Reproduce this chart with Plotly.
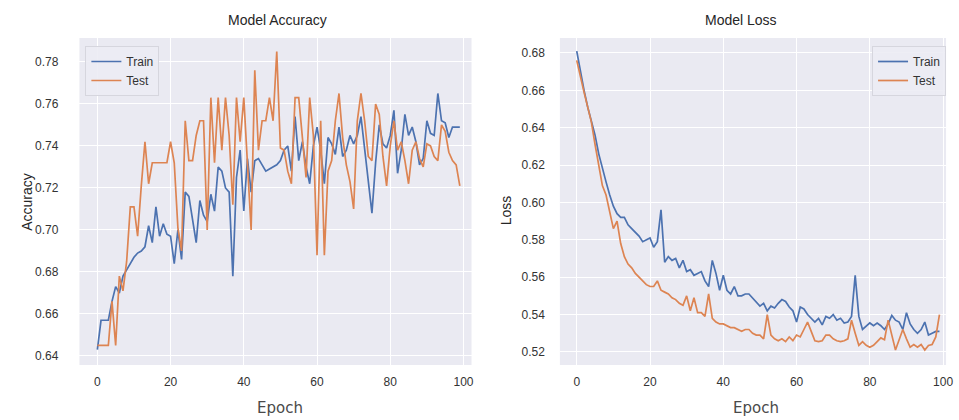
import plotly.graph_objects as go

epochs = list(range(100))

train_acc = [
    0.643, 0.657, 0.657, 0.657, 0.666, 0.673, 0.670, 0.678, 0.681, 0.684,
    0.687, 0.689, 0.690, 0.692, 0.702, 0.694, 0.711, 0.697, 0.703, 0.698,
    0.697, 0.684, 0.700, 0.686, 0.718, 0.716, 0.706, 0.694, 0.714, 0.707,
    0.704, 0.717, 0.709, 0.730, 0.728, 0.720, 0.718, 0.678, 0.725, 0.738,
    0.709, 0.734, 0.718, 0.733, 0.734, 0.731, 0.728, 0.729, 0.730, 0.731,
    0.733, 0.738, 0.740, 0.728, 0.754, 0.733, 0.742, 0.730, 0.722, 0.740,
    0.749, 0.738, 0.722, 0.744, 0.741, 0.736, 0.749, 0.735, 0.738, 0.745,
    0.741, 0.745, 0.754, 0.739, 0.722, 0.708, 0.732, 0.750, 0.741, 0.739,
    0.745, 0.757, 0.727, 0.738, 0.755, 0.745, 0.749, 0.742, 0.731, 0.734,
    0.752, 0.746, 0.745, 0.765, 0.752, 0.751, 0.744, 0.749, 0.749, 0.749,
]

test_acc = [
    0.645, 0.645, 0.645, 0.645, 0.666, 0.645, 0.678, 0.671, 0.685, 0.711,
    0.711, 0.697, 0.721, 0.742, 0.722, 0.732, 0.732, 0.732, 0.732, 0.732,
    0.742, 0.732, 0.701, 0.690, 0.752, 0.733, 0.733, 0.745, 0.752, 0.752,
    0.700, 0.763, 0.732, 0.763, 0.738, 0.763, 0.745, 0.712, 0.763, 0.742,
    0.763, 0.728, 0.700, 0.776, 0.738, 0.752, 0.752, 0.763, 0.752, 0.785,
    0.739, 0.738, 0.728, 0.722, 0.763, 0.763, 0.742, 0.725, 0.763, 0.745,
    0.688, 0.752, 0.688, 0.728, 0.733, 0.752, 0.765, 0.744, 0.731, 0.723,
    0.710, 0.752, 0.765, 0.752, 0.735, 0.733, 0.760, 0.755, 0.735, 0.721,
    0.740, 0.752, 0.738, 0.742, 0.733, 0.722, 0.738, 0.742, 0.734, 0.730,
    0.741, 0.740, 0.735, 0.733, 0.750, 0.747, 0.737, 0.733, 0.731, 0.721,
]

train_loss = [
    0.681, 0.670, 0.660, 0.651, 0.643, 0.636, 0.626, 0.618, 0.611, 0.604,
    0.598, 0.594, 0.592, 0.592, 0.588, 0.586, 0.584, 0.582, 0.579, 0.580,
    0.581, 0.576, 0.579, 0.596, 0.568, 0.571, 0.569, 0.570, 0.565, 0.569,
    0.563, 0.564, 0.561, 0.562, 0.563, 0.558, 0.555, 0.569, 0.562, 0.553,
    0.561, 0.553, 0.551, 0.555, 0.550, 0.550, 0.551, 0.551, 0.549, 0.547,
    0.5445, 0.546, 0.542, 0.5445, 0.5435, 0.546, 0.548, 0.547, 0.544, 0.542,
    0.536, 0.544, 0.543, 0.540, 0.538, 0.536, 0.538, 0.5345, 0.539, 0.538,
    0.540, 0.537, 0.538, 0.5355, 0.536, 0.539, 0.561, 0.539, 0.532, 0.5335,
    0.5355, 0.534, 0.5355, 0.534, 0.532, 0.535, 0.5395, 0.537, 0.536, 0.532,
    0.541, 0.535, 0.532, 0.530, 0.532, 0.536, 0.529, 0.530, 0.531, 0.531,
]

test_loss = [
    0.676, 0.667, 0.659, 0.651, 0.643, 0.631, 0.619, 0.609, 0.604, 0.595,
    0.586, 0.590, 0.578, 0.571, 0.567, 0.565, 0.562, 0.560, 0.558, 0.556,
    0.555, 0.555, 0.558, 0.553, 0.552, 0.551, 0.549, 0.548, 0.546, 0.545,
    0.550, 0.542, 0.549, 0.541, 0.541, 0.539, 0.551, 0.538, 0.536, 0.535,
    0.535, 0.534, 0.533, 0.533, 0.532, 0.531, 0.532, 0.532, 0.530, 0.529,
    0.529, 0.527, 0.540, 0.529, 0.527, 0.526, 0.527, 0.5255, 0.528, 0.526,
    0.529, 0.528, 0.532, 0.536, 0.531, 0.526, 0.5255, 0.526, 0.529, 0.529,
    0.527, 0.526, 0.5255, 0.526, 0.527, 0.537, 0.530, 0.5235, 0.5255, 0.5235,
    0.5225, 0.5235, 0.5255, 0.5275, 0.5265, 0.537, 0.529, 0.521, 0.5265, 0.532,
    0.527, 0.5225, 0.524, 0.5225, 0.524, 0.521, 0.5235, 0.524, 0.528, 0.540,
]

x_ticks = [0, 20, 40, 60, 80, 100]
acc_ticks = [0.64, 0.66, 0.68, 0.70, 0.72, 0.74, 0.76, 0.78]
loss_ticks = [0.52, 0.54, 0.56, 0.58, 0.60, 0.62, 0.64, 0.66, 0.68]

BLUE = "#4C72B0"
ORANGE = "#DD8452"
PANEL = "#EAEAF2"
TICK_FONT = dict(family="Liberation Sans, Arial, sans-serif", size=12, color="#333333")

W, H = 959, 420
TOP, BOTTOM = 38, 55


def px(x):
    return x / W


def py(y):
    # pixel row -> paper y (plot area spans rows TOP..H-BOTTOM)
    return (H - BOTTOM - y) / (H - TOP - BOTTOM)


fig = go.Figure()

fig.add_trace(go.Scatter(x=epochs, y=train_acc, name="Train", mode="lines",
                         line=dict(color=BLUE, width=1.7), xaxis="x", yaxis="y",
                         legend="legend"))
fig.add_trace(go.Scatter(x=epochs, y=test_acc, name="Test", mode="lines",
                         line=dict(color=ORANGE, width=1.7), xaxis="x", yaxis="y",
                         legend="legend"))
fig.add_trace(go.Scatter(x=epochs, y=train_loss, name="Train", mode="lines",
                         line=dict(color=BLUE, width=1.7), xaxis="x2", yaxis="y2",
                         legend="legend2"))
fig.add_trace(go.Scatter(x=epochs, y=test_loss, name="Test", mode="lines",
                         line=dict(color=ORANGE, width=1.7), xaxis="x2", yaxis="y2",
                         legend="legend2"))

grid = dict(showgrid=True, gridcolor="white", gridwidth=1.2, zeroline=False,
            showline=False, ticks="", tickfont=TICK_FONT)

legend_style = dict(
    bgcolor="rgba(236,236,244,0.9)", bordercolor="#D6D6DE", borderwidth=1,
    font=dict(family="Liberation Sans, Arial, sans-serif", size=12, color="#333333"),
    itemwidth=30, tracegroupgap=0,
)

fig.update_layout(
    width=W, height=H,
    margin=dict(l=0, r=0, t=TOP, b=BOTTOM),
    paper_bgcolor="white",
    plot_bgcolor=PANEL,
    xaxis=dict(domain=[px(80), px(475)], range=[-4.9, 102.2], tickvals=x_ticks,
               anchor="y", ticklabelstandoff=8, **grid),
    yaxis=dict(domain=[0, 1], range=[0.6357, 0.7914], tickvals=acc_ticks,
               tickformat=".2f", anchor="x", ticklabelstandoff=20, **grid),
    xaxis2=dict(domain=[px(564), px(953)], range=[-4.6, 100.8], tickvals=x_ticks,
                anchor="y2", ticklabelstandoff=8, **grid),
    yaxis2=dict(domain=[0, 1], range=[0.513, 0.688], tickvals=loss_ticks,
                tickformat=".2f", anchor="x2", ticklabelstandoff=14, **grid),
    legend=dict(x=px(86), y=py(46), xanchor="left", yanchor="top", **legend_style),
    legend2=dict(x=px(953), y=py(46), xanchor="right", yanchor="top", **legend_style),
    showlegend=True,
)

title_font = dict(family="Liberation Sans, Arial, sans-serif", size=14, color="#262626")
label_font = dict(family="Liberation Sans, Arial, sans-serif", size=14, color="#262626")
epoch_font = dict(family="DejaVu Sans, sans-serif", size=15, color="#4a4a4a")

annotations = [
    dict(text="Model Accuracy", x=px(280), y=py(20), font=title_font),
    dict(text="Model Loss", x=px(746), y=py(20), font=title_font),
    dict(text="Epoch", x=px(282), y=py(408), font=epoch_font),
    dict(text="Epoch", x=px(762), y=py(408), font=epoch_font),
    dict(text="Accuracy", x=px(27), y=py(202), font=label_font, textangle=-90),
    dict(text="Loss", x=px(510), y=py(210), font=label_font, textangle=-90),
]
for a in annotations:
    fig.add_annotation(xref="paper", yref="paper", showarrow=False,
                       xanchor="center", yanchor="middle", **a)

fig.write_html("out.html")
